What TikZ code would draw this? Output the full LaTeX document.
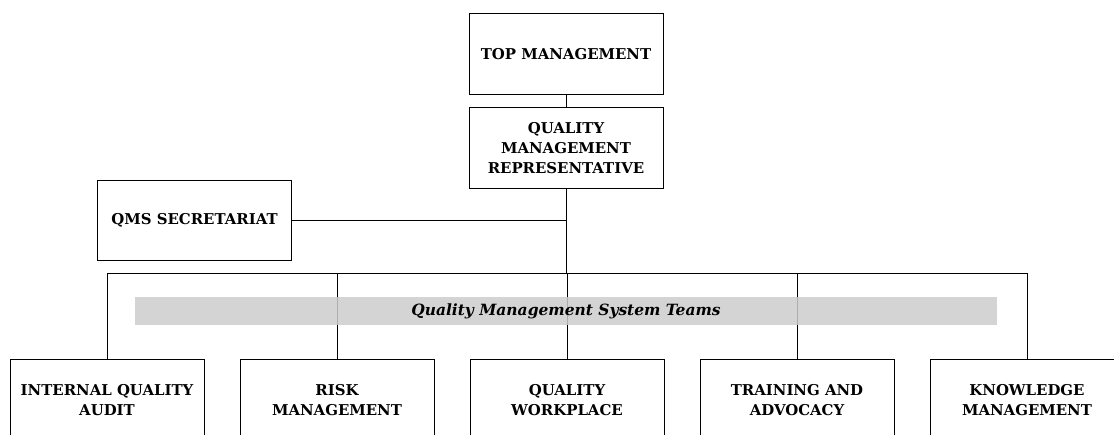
\documentclass[tikz,border=0pt]{standalone}
\usepackage{fontspec}
\setmainfont{DejaVu Serif}
\tikzset{unitbox/.style={rectangle, draw, line width=0.6pt, fill=white, align=center, font=\bfseries\fontsize{10.6}{14.2}\selectfont, minimum width=4.85cm, minimum height=2.02cm, inner sep=2pt}}
\tikzset{teamband/.style={rectangle, fill=gray!40, fill opacity=0.85, text opacity=1, minimum width=21.55cm, minimum height=0.7cm, font=\bfseries\itshape\fontsize{11}{13}\selectfont}}

\begin{document}
\begin{tikzpicture}[x=0.025cm, y=-0.025cm, line width=0.6pt]
		\useasboundingbox (0,0) rectangle (1114,435);
		\clip (0,0) rectangle (1114,435);
		
		% Draw the nodes
		\node[unitbox] (top) at (566,54) {TOP MANAGEMENT};
		\node[unitbox] (qmr) at (566,148) {QUALITY\\MANAGEMENT\\REPRESENTATIVE};
		\node[unitbox] (sec) at (194.5,220.5) {QMS SECRETARIAT};
		
		\node[unitbox] (iqa) at (107,400) {INTERNAL QUALITY\\AUDIT};
		\node[unitbox] (risk) at (337,400) {RISK\\MANAGEMENT};
		\node[unitbox] (qw) at (567,400) {QUALITY\\WORKPLACE};
		\node[unitbox] (train) at (797,400) {TRAINING AND\\ADVOCACY};
		\node[unitbox] (km) at (1027,400) {KNOWLEDGE\\MANAGEMENT};
		
		\coordinate (bus) at (567,273);
		
		% Draw the edges
		\draw (top) -- (qmr);
		\draw (qmr.south) -- (qmr.south |- bus);
		\draw (sec.east) -- (sec.east -| qmr.south);
		\draw (iqa.north |- bus) -- (km.north |- bus);
		\foreach \n in {iqa,risk,qw,train,km}
			\draw (\n.north |- bus) -- (\n.north);
		
		% Draw the band
		\node[teamband] (teams) at (566,311) {Quality Management System Teams};
	\end{tikzpicture}
\end{document}
